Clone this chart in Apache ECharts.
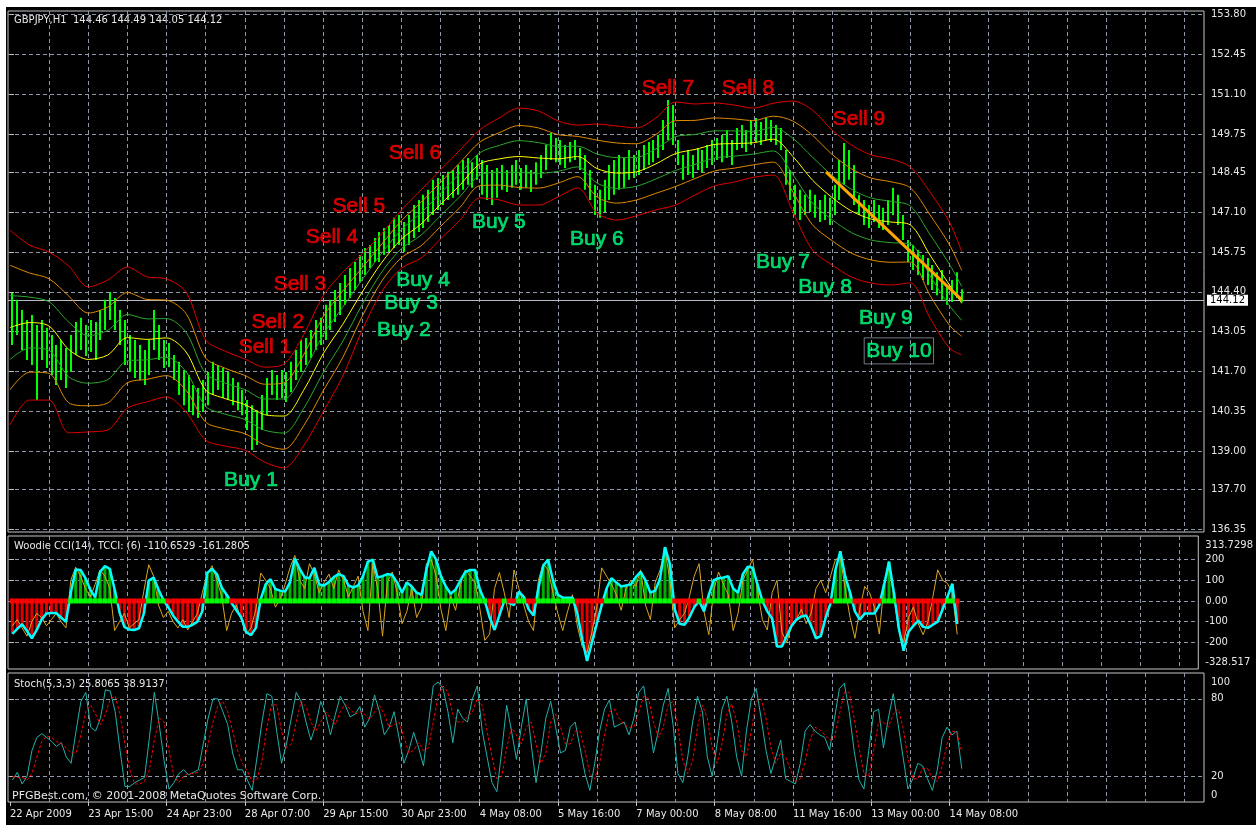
<!DOCTYPE html>
<html>
<head>
<meta charset="utf-8">
<title>GBPJPY,H1</title>
<script src="https://cdn.jsdelivr.net/npm/echarts@6/dist/echarts.min.js"></script>
<style>
html,body{margin:0;padding:0;background:#fff;}
#chart{width:1256px;height:825px;}
</style>
</head>
<body>
<div id="chart"></div>
<script>
// axis labels
var dateLabels = ['22 Apr 2009','23 Apr 15:00','24 Apr 23:00','28 Apr 07:00','29 Apr 15:00','30 Apr 23:00',
    '4 May 08:00','5 May 16:00','7 May 00:00','8 May 08:00','11 May 16:00','13 May 00:00','14 May 08:00'];
var priceTicks = [153.80,152.45,151.10,149.75,148.45,147.10,145.75,144.40,143.05,141.70,140.35,139.00,137.70,136.35];
var cciTicks = [-200,-100,0,100,200];
var cciLabels = [-328.517,-200,-100,0,100,200,313.7298];
var stochTicks = [20,80];
var stochLabels = [0,20,80,100];

// price, one sample every 2 hours (high / low)
var priceHigh = [144.36,144.13,143.79,143.45,143.62,143.28,143.45,143.18,142.94,142.60,
    142.77,142.50,142.94,143.38,143.52,143.28,143.45,143.38,143.79,144.13,
    144.40,144.19,143.79,143.45,142.94,142.77,142.60,142.43,142.77,143.79,
    143.28,142.77,142.67,142.26,142.03,141.75,141.58,141.24,141.14,141.41,
    141.68,142.03,141.92,141.82,141.68,141.48,141.34,141.07,140.73,140.56,
    140.39,140.90,141.48,141.75,141.58,141.75,141.68,142.03,142.43,142.77,
    142.84,143.11,143.45,143.52,143.96,144.13,144.46,144.70,144.97,145.21,
    145.41,145.65,145.89,145.99,146.23,146.43,146.57,146.67,146.91,147.01,
    146.77,147.01,147.35,147.52,147.69,147.86,148.20,148.26,148.36,148.47,
    148.53,148.70,148.87,148.94,148.80,149.04,148.87,148.70,148.53,148.60,
    148.70,148.53,148.70,148.87,148.60,148.70,148.53,148.80,149.04,149.38,
    149.79,149.62,149.55,149.38,149.48,149.55,149.28,149.04,148.53,148.03,
    147.86,148.20,148.70,148.87,149.04,148.94,149.21,149.04,149.21,149.38,
    149.48,149.55,149.72,150.23,150.91,150.74,149.55,149.04,149.21,149.04,
    149.28,149.21,149.38,149.55,149.62,149.72,149.89,149.55,149.96,150.06,
    149.89,150.23,150.30,150.16,150.30,150.23,150.06,149.96,149.21,148.53,
    148.03,147.86,147.69,147.86,147.69,147.52,147.69,147.59,148.03,148.87,
    149.45,149.21,148.70,147.69,147.52,147.35,147.52,147.35,147.25,147.52,
    147.93,147.69,147.01,146.16,145.99,145.82,145.65,145.55,145.31,145.07,
    145.14,144.63,144.80,145.07,144.49];
var priceLow = [142.60,142.94,142.43,142.09,141.92,140.73,142.09,141.82,141.58,141.24,
    141.41,141.14,141.68,142.26,142.43,142.23,142.36,142.09,142.77,143.11,
    143.45,143.11,142.60,141.92,141.68,141.48,141.41,141.24,141.58,142.43,
    142.09,141.82,141.85,141.41,140.90,140.56,140.33,140.22,140.12,140.33,
    140.56,140.90,141.07,140.80,140.73,140.56,140.39,140.22,139.72,139.04,
    139.21,139.72,140.22,140.90,140.73,140.80,140.67,141.00,141.41,141.68,
    141.92,142.16,142.43,142.60,142.77,143.11,143.38,143.62,143.96,144.19,
    144.46,144.73,144.97,145.21,145.41,145.41,145.65,145.75,145.89,145.99,
    145.75,145.99,146.23,146.43,146.57,146.77,147.01,147.18,147.35,147.52,
    147.59,147.69,147.86,148.03,147.93,148.20,147.69,147.52,147.35,147.59,
    147.86,147.79,147.93,148.03,147.86,147.93,147.79,148.03,148.26,148.53,
    148.87,148.80,148.70,148.60,148.80,148.87,148.53,147.86,147.52,147.01,
    146.91,147.11,147.52,147.69,147.86,147.93,148.20,148.26,148.36,148.53,
    148.70,148.80,148.94,149.21,149.55,149.38,148.70,148.20,148.36,148.26,
    148.53,148.46,148.60,148.70,148.87,148.80,148.94,148.70,149.21,149.28,
    149.14,149.38,149.48,149.38,149.55,149.48,149.38,149.21,148.03,147.52,
    147.01,146.84,147.01,147.11,146.91,146.77,146.84,146.67,147.01,147.52,
    148.03,148.20,147.35,147.01,146.67,146.57,146.77,146.57,146.50,146.67,
    147.01,146.67,146.16,145.41,145.14,144.97,144.80,144.63,144.46,144.29,
    144.13,143.96,144.06,144.19,144.05];

// envelope bands, one sample every 8 hours (middle line and inner band width)
var bandMid = [143.19,143.36,143.24,142.45,142.11,142.26,142.85,142.79,142.84,142.36,
    141.07,140.78,140.58,140.24,140.19,141.06,142.30,143.30,144.40,145.40,
    146.19,146.70,147.37,148.03,148.74,148.91,148.99,148.94,148.91,148.99,
    148.58,148.43,148.47,148.74,149.09,149.23,149.40,149.43,149.46,149.58,
    148.99,148.19,147.60,147.14,146.87,146.77,146.67,145.65,144.63,144.01];
var bandW = [1.084,0.862,0.823,0.928,0.806,0.834,0.784,0.695,0.656,0.667,
    0.556,0.528,0.506,0.528,0.578,0.617,0.645,0.578,0.422,0.322,
    0.322,0.378,0.384,0.389,0.378,0.456,0.539,0.523,0.422,0.350,
    0.495,0.523,0.489,0.511,0.573,0.506,0.461,0.428,0.384,0.400,
    0.617,0.778,0.750,0.734,0.712,0.700,0.645,0.700,0.700,0.573];

// Woodie CCI(14) and TCCI(6)
var cci = [-159,-135,-112,-145,-180,-140,-90,-60,-58,-58,
    -80,-100,40,152,150,110,55,18,140,168,
    155,55,-55,-125,-138,-140,-132,-60,98,113,
    55,5,-30,-70,-100,-125,-125,-115,-100,-50,
    135,155,130,64,30,-10,-45,-80,-150,-165,
    -130,10,80,105,58,50,45,90,205,155,
    115,110,160,80,75,92,115,130,120,75,
    65,75,120,190,200,113,120,130,125,90,
    40,90,70,40,30,150,240,200,120,70,
    35,55,100,140,150,150,55,0,-80,-140,
    -70,0,-10,-20,45,20,-40,-70,60,170,
    200,100,30,16,16,16,-60,-185,-290,-200,
    -110,-20,60,110,90,70,75,80,115,140,
    100,40,50,110,260,180,-40,-110,-115,-80,
    -30,0,-50,30,100,110,113,120,60,40,
    130,165,160,80,0,-50,-85,-220,-220,-170,
    -120,-90,-75,-70,-120,-180,-170,-80,-10,150,
    240,120,40,-50,-90,-61,-61,-61,-20,80,
    190,40,-130,-240,-150,-120,-95,-125,-130,-115,
    -100,-40,20,83,-110.65];
var tcci = [-120,-90,-130,-170,-100,-60,-80,-120,-90,-60,
    -100,-130,100,163,120,60,20,80,150,120,
    60,-143,-100,-60,-130,-110,-90,50,175,120,
    -20,-80,-50,-100,-130,-90,-140,-100,-60,40,
    130,170,100,20,-143,-60,-20,-90,-160,-130,
    -40,135,100,60,-30,10,80,160,220,100,
    60,180,130,40,90,130,60,150,100,20,
    70,120,-50,-143,180,60,-170,90,140,40,
    -110,-50,60,-80,-30,180,200,120,-40,-143,
    20,-45,80,150,120,90,-40,-190,-160,60,
    137,40,-80,150,60,-20,-100,-143,100,180,
    150,40,-60,-143,-50,30,-120,-220,-250,-150,
    -30,160,120,80,30,-45,60,100,70,150,
    -20,-90,90,150,250,100,-130,-90,-60,20,
    120,180,-50,-163,50,140,80,30,-143,-60,
    100,150,200,50,-90,-140,40,100,-150,-200,
    -120,-90,-40,-110,-60,60,100,40,120,200,
    210,60,-80,-180,-40,70,40,-30,-160,80,
    160,20,-143,-200,-80,-30,-110,-163,-100,20,
    150,100,85,40,-161.28];

// Stochastic(5,3,3)
var stochK = [17,23,14,20,40,50,53,50,47,43,
    46,35,30,55,78,85,58,55,65,87,
    86,70,40,12,12,15,17,19,50,85,
    60,32,10,15,22,25,21,23,25,45,
    65,80,80,70,60,38,25,25,17,9,
    35,62,84,82,55,30,45,65,85,78,
    62,48,60,78,68,52,68,82,75,66,
    68,74,58,65,83,70,52,58,70,50,
    30,40,54,42,28,60,90,93,88,70,
    46,72,65,62,80,90,55,35,15,8,
    40,75,55,33,58,80,45,15,38,65,
    78,58,38,40,58,62,42,22,9,30,
    55,72,79,58,60,62,52,65,85,90,
    65,38,55,75,88,60,22,15,35,62,
    82,70,35,20,45,72,82,62,35,20,
    55,80,88,65,40,22,35,48,18,16,
    14,30,55,60,55,52,50,40,65,88,
    92,70,40,17,10,40,70,72,42,65,
    84,60,35,10,18,30,28,18,9,25,
    50,58,52,55,25.81];
var stochD = [20,19,19,17,22,35,47,51,50,47,
    45,42,38,38,52,70,75,68,60,68,
    80,82,68,45,25,14,14,16,25,48,
    65,62,40,20,15,20,22,22,23,30,
    45,62,75,78,70,55,40,30,24,16,
    18,32,58,76,75,55,42,45,62,78,
    74,62,55,62,70,65,60,70,76,72,
    68,70,68,64,70,75,68,58,60,62,
    50,38,40,46,40,42,62,82,90,85,
    68,62,62,66,70,80,75,55,35,18,
    20,42,58,52,45,58,62,45,30,38,
    62,68,58,45,45,55,55,40,22,18,
    30,52,70,72,65,60,58,58,70,82,
    80,62,50,58,75,78,58,32,22,32,
    58,75,65,42,30,45,68,76,62,40,
    35,55,78,80,65,42,30,38,35,25,
    16,18,32,48,58,56,52,48,50,68,
    85,85,65,42,22,20,40,62,62,58,
    68,72,58,34,18,18,26,26,18,16,
    28,45,55,54,38.91];

var lastPrice = 144.12;
var trendLine = [[333.5, 148.47], [389, 144.13]];

// text objects: [bar index, price]
var sellText = ['Sell 1','Sell 2','Sell 3','Sell 4','Sell 5','Sell 6','Sell 7','Sell 8','Sell 9'];
var sellPos = [[104.2,142.53],[109.5,143.38],[118.5,144.67],[131.6,146.26],[142.6,147.31],
    [165.5,149.11],[268.9,151.31],[301.6,151.31],[347.0,150.26]];
var buyText = ['Buy 1','Buy 2','Buy 3','Buy 4','Buy 5','Buy 6','Buy 7','Buy 8','Buy 9','Buy 10'];
var buyPos = [[98.5,138.02],[161.0,143.11],[163.9,144.02],[168.8,144.80],[199.8,146.77],
    [239.9,146.19],[315.9,145.41],[333.1,144.57],[358.0,143.52],[363.3,142.40]];

var gridColor = '#8d97a8';
var textColor = '#e8e8e8';
var font = 'DejaVu Sans';

function sampleIdx(k) { return 2 * k + 1; }
function bandIdx(k) { return k < bandMid.length - 1 ? 8 * k : 389; }

var vTicks = [];
for (var t = 16; t <= 480; t += 16) vTicks.push(t);
var dateTicks = dateLabels.map(function (d, i) { return i * 32; });

var barData = priceHigh.map(function (h, k) { return [sampleIdx(k), h, priceLow[k]]; });
var cciData = cci.map(function (v, k) { return [sampleIdx(k), v]; });
var tcciData = tcci.map(function (v, k) { return [sampleIdx(k), v]; });
var kData = stochK.map(function (v, k) { return [sampleIdx(k), v]; });
var dData = stochD.map(function (v, k) { return [sampleIdx(k), v]; });

function renderBar(params, api) {
    var top = api.coord([api.value(0), api.value(1)]);
    var bot = api.coord([api.value(0), api.value(2)]);
    var x = Math.round(top[0]) - 1;
    return {type: 'rect', shape: {x: x, y: top[1], width: 2, height: bot[1] - top[1]},
        style: {fill: '#00ff00'}};
}

function renderHist(params, api) {
    var v = api.value(1);
    var p0 = api.coord([api.value(0), 0]);
    var p1 = api.coord([api.value(0), v]);
    return {type: 'rect', shape: {x: p0[0] - 1.5, y: Math.min(p0[1], p1[1]), width: 3, height: Math.abs(p1[1] - p0[1])},
        style: {fill: v >= 0 ? '#00b000' : '#e00000'}};
}

function renderZero(params, api) {
    var v = api.value(1);
    var a = api.coord([api.value(0) - 1, 0]);
    var b = api.coord([api.value(0) + 1, 0]);
    return {type: 'rect', shape: {x: a[0], y: a[1] - 2.5, width: b[0] - a[0], height: 5},
        style: {fill: v >= 0 ? '#00ff00' : '#ff0000'}};
}

var bands = [
    {m: 3.05, c: '#e00000'}, {m: 1.95, c: '#e08a00'}, {m: 1, c: '#2aa82a'}, {m: 0, c: '#ffff00'},
    {m: -1, c: '#2aa82a'}, {m: -1.95, c: '#e08a00'}, {m: -3.05, c: '#e00000'}
];
var bandSeries = bands.map(function (b) {
    return {
        type: 'line', xAxisIndex: 0, yAxisIndex: 0, showSymbol: false, smooth: 0.3, z: 3,
        lineStyle: {color: b.c, width: 1},
        data: bandMid.map(function (m, k) { return [bandIdx(k), +(m + b.m * bandW[k]).toFixed(3)]; })
    };
});

function splitXAxis(gridIndex, pos) {
    return {
        type: 'value', gridIndex: gridIndex, min: -0.8, max: 488, position: pos,
        axisLine: {show: false}, axisLabel: {show: false},
        axisTick: {show: false, customValues: vTicks},
        splitLine: {show: true, lineStyle: {color: gridColor, type: [4, 3], width: 1}}
    };
}

function textLabel(pos, text, boxed) {
    var item = {value: pos, name: text};
    if (boxed) {
        item.label = {borderColor: '#8d97a8', borderWidth: 1, padding: [3, 2, 2, 2]};
    }
    return item;
}

var chart = echarts.init(document.getElementById('chart'));
var option = {
    backgroundColor: '#000',
    animation: false,
    graphic: [
        {type: 'rect', left: 0, top: 0, shape: {width: 1256, height: 7}, style: {fill: '#fff'}},
        {type: 'rect', left: 0, top: 0, shape: {width: 6, height: 825}, style: {fill: '#fff'}},
        {type: 'text', left: 14, top: 15, style: {text: 'GBPJPY,H1  144.46 144.49 144.05 144.12', fill: textColor, font: '10px DejaVu Sans'}},
        {type: 'text', left: 14, top: 541, style: {text: 'Woodie CCI(14), TCCI: (6) -110.6529 -161.2805', fill: textColor, font: '10px DejaVu Sans'}},
        {type: 'text', left: 14, top: 679, style: {text: 'Stoch(5,3,3) 25.8065 38.9137', fill: textColor, font: '10px DejaVu Sans'}},
        {type: 'text', left: 12, top: 791, style: {text: 'PFGBest.com, \u00a9 2001-2008 MetaQuotes Software Corp.', fill: textColor, font: '11px DejaVu Sans'}}
    ],
    grid: [
        {left: 8, right: 52, top: 11, height: 521, show: true, borderColor: '#c4c4c4', borderWidth: 1, backgroundColor: '#000'},
        {left: 8, right: 52, top: 536, height: 133, show: true, borderColor: '#c4c4c4', borderWidth: 1, backgroundColor: '#000'},
        {left: 8, right: 52, top: 673, height: 129, show: true, borderColor: '#c4c4c4', borderWidth: 1, backgroundColor: '#000'}
    ],
    xAxis: [
        splitXAxis(0, 'bottom'),
        splitXAxis(1, 'bottom'),
        splitXAxis(2, 'top'),
        {
            type: 'value', gridIndex: 2, min: -0.8, max: 488, position: 'bottom',
            axisLine: {show: false}, splitLine: {show: false},
            axisTick: {show: true, customValues: dateTicks, length: 4, lineStyle: {color: '#c4c4c4'}},
            axisLabel: {
                customValues: dateTicks, align: 'left', margin: 7,
                color: textColor, fontFamily: font, fontSize: 10,
                formatter: function (v) { return dateLabels[Math.round(v / 32)]; }
            }
        }
    ],
    yAxis: [
        {
            type: 'value', gridIndex: 0, position: 'right', min: 136.258, max: 153.925,
            axisLine: {show: false},
            axisTick: {show: true, customValues: priceTicks, length: 4, lineStyle: {color: '#c4c4c4'}},
            axisLabel: {customValues: priceTicks, margin: 7, color: textColor, fontFamily: font, fontSize: 10,
                formatter: function (v) { return v.toFixed(2); }},
            splitLine: {show: true, lineStyle: {color: gridColor, type: [4, 3], width: 1}}
        },
        {
            type: 'value', gridIndex: 1, position: 'right', min: -328.517, max: 313.7298,
            axisLine: {show: false},
            axisTick: {show: true, customValues: cciTicks, length: 4, lineStyle: {color: '#c4c4c4'}},
            axisLabel: {
                customValues: cciLabels, margin: 7, color: textColor, fontFamily: font, fontSize: 10,
                formatter: function (v) {
                    if (v > 300) return '{t|313.7298}';
                    if (v < -300) return '{b|-328.517}';
                    if (v === 0) return '0.00';
                    return String(v);
                },
                rich: {
                    t: {padding: [18, 0, 0, 0], color: textColor, fontFamily: font, fontSize: 10},
                    b: {padding: [0, 0, 14, 0], color: textColor, fontFamily: font, fontSize: 10}
                }
            },
            splitLine: {show: true, lineStyle: {color: gridColor, type: [4, 3], width: 1}}
        },
        {
            type: 'value', gridIndex: 2, position: 'right', min: 0, max: 100,
            axisLine: {show: false},
            axisTick: {show: true, customValues: stochTicks, length: 4, lineStyle: {color: '#c4c4c4'}},
            axisLabel: {
                customValues: stochLabels, margin: 7, color: textColor, fontFamily: font, fontSize: 10,
                formatter: function (v) {
                    if (v === 100) return '{t|100}';
                    if (v === 0) return '{b|0}';
                    return String(v);
                },
                rich: {
                    t: {padding: [18, 0, 0, 0], color: textColor, fontFamily: font, fontSize: 10},
                    b: {padding: [0, 0, 14, 0], color: textColor, fontFamily: font, fontSize: 10}
                }
            },
            splitLine: {show: true, lineStyle: {color: gridColor, type: [4, 3], width: 1}}
        }
    ],
    series: [
        {
            type: 'custom', xAxisIndex: 0, yAxisIndex: 0, z: 2, renderItem: renderBar,
            encode: {x: 0, y: [1, 2]}, data: barData,
            markLine: {
                silent: true, symbol: 'none', z: 1,
                lineStyle: {color: '#b8bcc4', type: 'solid', width: 1},
                label: {position: 'end', formatter: '144.12', color: '#000', backgroundColor: '#fff',
                    padding: [1, 3, 0, 3], fontFamily: font, fontSize: 10, distance: 3},
                data: [{yAxis: lastPrice}]
            }
        }
    ].concat(bandSeries).concat([
        {
            type: 'line', xAxisIndex: 0, yAxisIndex: 0, showSymbol: false, z: 4,
            lineStyle: {color: '#ffa500', width: 3}, data: trendLine
        },
        {
            type: 'scatter', xAxisIndex: 0, yAxisIndex: 0, symbolSize: 0, z: 6,
            label: {show: true, position: 'inside', formatter: '{b}', color: '#ff0000',
                textBorderColor: '#ff0000', textBorderWidth: 0.7,
                fontFamily: 'Liberation Sans', fontSize: 21},
            data: sellPos.map(function (p, i) { return textLabel(p, sellText[i]); })
        },
        {
            type: 'scatter', xAxisIndex: 0, yAxisIndex: 0, symbolSize: 0, z: 6,
            label: {show: true, position: 'inside', formatter: '{b}', color: '#00ff80',
                textBorderColor: '#00ff80', textBorderWidth: 0.7,
                fontFamily: 'Liberation Sans', fontSize: 21},
            data: buyPos.map(function (p, i) { return textLabel(p, buyText[i], i === buyText.length - 1); })
        },
        {
            type: 'custom', xAxisIndex: 1, yAxisIndex: 1, z: 2, renderItem: renderHist,
            encode: {x: 0, y: 1}, data: cciData
        },
        {
            type: 'line', xAxisIndex: 1, yAxisIndex: 1, showSymbol: false, z: 3,
            lineStyle: {color: '#daa520', width: 1}, data: tcciData
        },
        {
            type: 'line', xAxisIndex: 1, yAxisIndex: 1, showSymbol: false, z: 4,
            lineStyle: {color: '#00ffff', width: 2.5}, data: cciData
        },
        {
            type: 'custom', xAxisIndex: 1, yAxisIndex: 1, z: 5, renderItem: renderZero,
            encode: {x: 0, y: 1}, data: cciData
        },
        {
            type: 'line', xAxisIndex: 2, yAxisIndex: 2, showSymbol: false, z: 3,
            lineStyle: {color: '#20b2aa', width: 1}, data: kData
        },
        {
            type: 'line', xAxisIndex: 2, yAxisIndex: 2, showSymbol: false, z: 4,
            lineStyle: {color: '#ff0000', width: 1, type: [3, 2]}, data: dData
        }
    ])
};
chart.setOption(option);
</script>
</body>
</html>
